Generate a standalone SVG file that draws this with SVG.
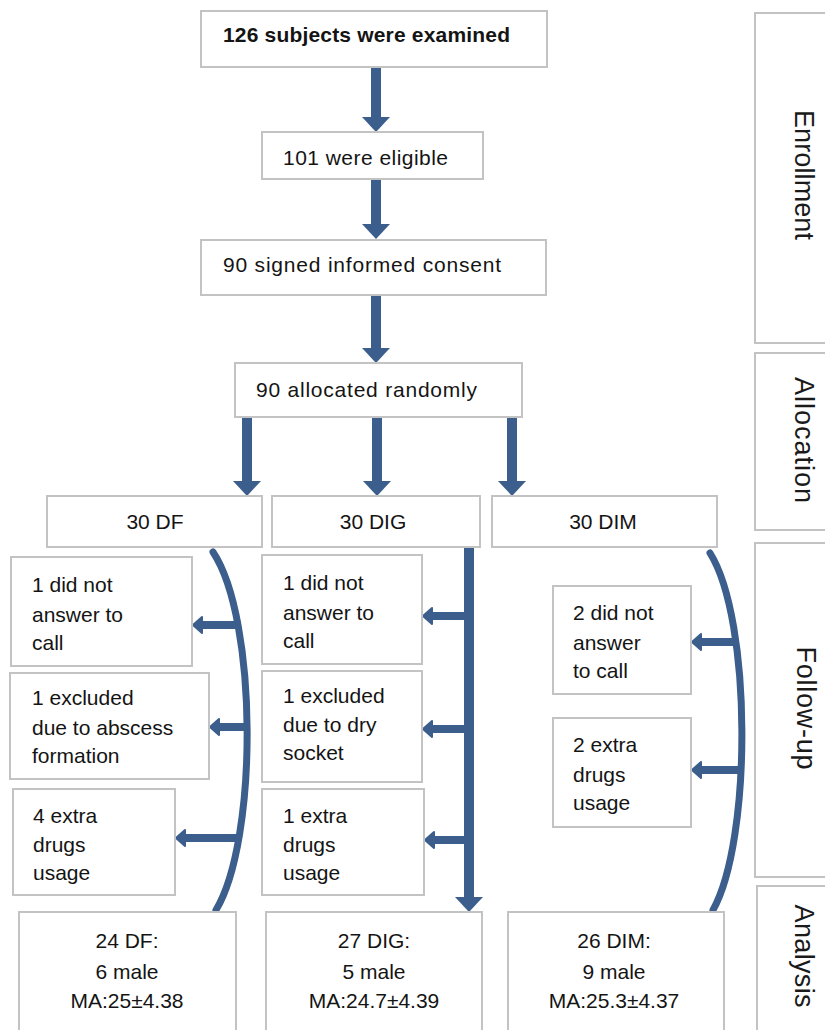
<svg xmlns="http://www.w3.org/2000/svg" width="825" height="1030" viewBox="0 0 825 1030">
<defs>
<style>
.box{fill:#fff;stroke:#c3c3c3;stroke-width:2}
.t{font-family:"Liberation Sans",Arial,sans-serif;font-size:21px;fill:#141414}
.b{font-weight:bold}
.c{text-anchor:middle}
.side{font-family:"Liberation Sans",Arial,sans-serif;font-size:27px;fill:#1a1a1a;text-anchor:middle}
.shaft{stroke:#3b5e8c;stroke-width:10;fill:none}
.bar{stroke:#3b5e8c;stroke-width:8;fill:none}
.brk{stroke:#3b5e8c;stroke-width:7;fill:none;stroke-linecap:round}
</style>
<marker id="big" markerUnits="userSpaceOnUse" orient="auto" refX="0" refY="0" markerWidth="16" markerHeight="30" overflow="visible">
<path d="M0,-14 L15,0 L0,14 Z" fill="#3b5e8c"/>
</marker>
<marker id="small" markerUnits="userSpaceOnUse" orient="auto" refX="0" refY="0" markerWidth="12" markerHeight="20" overflow="visible">
<path d="M0,-8 L9,0 L0,8 Z" fill="#3b5e8c" stroke="#3b5e8c" stroke-width="2" stroke-linejoin="round"/>
</marker>
</defs>
<rect width="825" height="1030" fill="#fff"/>

<g id="connectors">
<line class="shaft" x1="376" y1="67" x2="376" y2="117" marker-end="url(#big)"/>
<line class="shaft" x1="376" y1="179" x2="376" y2="224" marker-end="url(#big)"/>
<line class="shaft" x1="376" y1="295" x2="376" y2="348" marker-end="url(#big)"/>
<line class="shaft" x1="247" y1="417" x2="247" y2="481" marker-end="url(#big)"/>
<line class="shaft" x1="377" y1="417" x2="377" y2="481" marker-end="url(#big)"/>
<line class="shaft" x1="512" y1="417" x2="512" y2="481" marker-end="url(#big)"/>
<path class="brk" d="M213,552 C258,620 258,840 216,910"/>
<line class="bar" x1="241" y1="625" x2="202" y2="625" marker-end="url(#small)"/>
<line class="bar" x1="247" y1="727" x2="219" y2="727" marker-end="url(#small)"/>
<line class="bar" x1="241" y1="838" x2="185" y2="838" marker-end="url(#small)"/>
<line class="shaft" x1="469" y1="547" x2="469" y2="897" marker-end="url(#big)"/>
<line class="bar" x1="469" y1="616" x2="432" y2="616" marker-end="url(#small)"/>
<line class="bar" x1="469" y1="729" x2="432" y2="729" marker-end="url(#small)"/>
<line class="bar" x1="469" y1="840" x2="434" y2="840" marker-end="url(#small)"/>
<path class="brk" d="M710,553 C752,620 752,840 713,910"/>
<line class="bar" x1="736" y1="642" x2="701" y2="642" marker-end="url(#small)"/>
<line class="bar" x1="740" y1="770" x2="701" y2="770" marker-end="url(#small)"/>
</g>

<g id="n-examined"><rect class="box" x="201" y="11" width="346" height="56"/><text class="t b" x="223" y="42" font-size="20" textLength="287">126 subjects  were examined</text></g>
<g id="n-eligible"><rect class="box" x="262" y="132" width="221" height="47"/><text class="t" x="283" y="165" font-size="20" textLength="165">101 were eligible</text></g>
<g id="n-consent"><rect class="box" x="201" y="240" width="345" height="55"/><text class="t" x="223" y="272" font-size="20" textLength="278">90 signed  informed  consent</text></g>
<g id="n-allocated"><rect class="box" x="235" y="363" width="287" height="54"/><text class="t" x="256" y="397" font-size="20" textLength="221">90 allocated  randomly</text></g>

<g id="n-df"><rect class="box" x="47" y="496" width="215" height="51"/><text class="t c" x="155" y="529" font-size="18">30 DF</text></g>
<g id="n-dig"><rect class="box" x="272" y="496" width="208" height="51"/><text class="t c" x="373" y="529" font-size="18">30 DIG</text></g>
<g id="n-dim"><rect class="box" x="492" y="496" width="225" height="51"/><text class="t c" x="603" y="529" font-size="18">30 DIM</text></g>

<g id="n-df-call"><rect class="box" x="11" y="557" width="181" height="109"/><text class="t" x="32" y="592">1 did not</text><text class="t" x="32" y="622">answer to</text><text class="t" x="32" y="650">call</text></g>
<g id="n-df-abscess"><rect class="box" x="10" y="673" width="199" height="106"/><text class="t" x="32" y="705">1 excluded</text><text class="t" x="32" y="735">due to abscess</text><text class="t" x="32" y="763">formation</text></g>
<g id="n-df-drugs"><rect class="box" x="13" y="789" width="162" height="106"/><text class="t" x="33" y="823">4 extra</text><text class="t" x="33" y="852">drugs</text><text class="t" x="33" y="880">usage</text></g>

<g id="n-dig-call"><rect class="box" x="262" y="555" width="160" height="109"/><text class="t" x="283" y="590">1 did not</text><text class="t" x="283" y="620">answer to</text><text class="t" x="283" y="648">call</text></g>
<g id="n-dig-socket"><rect class="box" x="262" y="671" width="160" height="111"/><text class="t" x="283" y="703">1 excluded</text><text class="t" x="283" y="732">due to dry</text><text class="t" x="283" y="760">socket</text></g>
<g id="n-dig-drugs"><rect class="box" x="262" y="789" width="162" height="106"/><text class="t" x="283" y="823">1 extra</text><text class="t" x="283" y="852">drugs</text><text class="t" x="283" y="880">usage</text></g>

<g id="n-dim-call"><rect class="box" x="553" y="586" width="138" height="108"/><text class="t" x="573" y="620">2 did not</text><text class="t" x="573" y="650">answer</text><text class="t" x="573" y="678">to call</text></g>
<g id="n-dim-drugs"><rect class="box" x="553" y="718" width="138" height="109"/><text class="t" x="573" y="752">2 extra</text><text class="t" x="573" y="782">drugs</text><text class="t" x="573" y="810">usage</text></g>

<g id="n-df-final"><rect class="box" x="19" y="912" width="217" height="130"/><text class="t c" x="127" y="948">24 DF:</text><text class="t c" x="127" y="979">6 male</text><text class="t c" x="127" y="1008">MA:25±4.38</text></g>
<g id="n-dig-final"><rect class="box" x="266" y="912" width="216" height="130"/><text class="t c" x="374" y="948">27 DIG:</text><text class="t c" x="374" y="979">5 male</text><text class="t c" x="374" y="1008">MA:24.7±4.39</text></g>
<g id="n-dim-final"><rect class="box" x="508" y="912" width="216" height="130"/><text class="t c" x="614" y="948">26 DIM:</text><text class="t c" x="614" y="979">9 male</text><text class="t c" x="614" y="1008">MA:25.3±4.37</text></g>

<g id="s-enrollment"><rect class="box" x="755" y="13" width="80" height="330"/><text class="side" transform="translate(795,175) rotate(90)" textLength="130">Enrollment</text></g>
<g id="s-allocation"><rect class="box" x="755" y="353" width="80" height="177"/><text class="side" transform="translate(795,440) rotate(90)" textLength="126">Allocation</text></g>
<g id="s-followup"><rect class="box" x="755" y="543" width="80" height="334"/><text class="side" transform="translate(797,708) rotate(90)" textLength="123">Follow-up</text></g>
<g id="s-analysis"><rect class="box" x="757" y="886" width="80" height="150"/><text class="side" transform="translate(795,956) rotate(90)" textLength="103">Analysis</text></g>
</svg>
